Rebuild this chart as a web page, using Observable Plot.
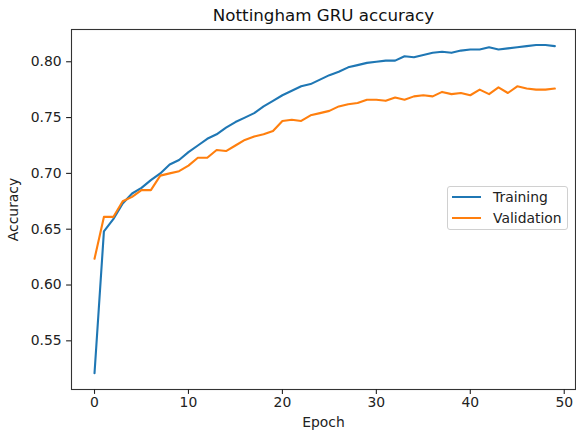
<!DOCTYPE html>
<html>
<head>
<meta charset="utf-8">
<script src="https://cdn.jsdelivr.net/npm/d3@7"></script>
<script src="https://cdn.jsdelivr.net/npm/@observablehq/plot@0.6"></script>
<style>
  body { margin: 0; background: #fff; }
  #wrap { position: relative; width: 576px; height: 431px; font-family: "DejaVu Sans", sans-serif; }
  #legend { position: absolute; left: 447px; top: 186px; width: 121px; height: 44px;
            border: 1px solid #d0d0d0; border-radius: 3px; background: rgba(255,255,255,0.8);
            box-sizing: border-box; }
  .row { position: absolute; left: 4px; height: 16px; display: flex; align-items: center; }
  .sw { width: 29px; height: 2px; margin-right: 12px; }
  .lab { font-size: 13.9px; color: #222; line-height: 16px; }
</style>
</head>
<body>
<div id="wrap"></div>
<script>
const title = "Nottingham GRU accuracy";
const xLabel = "Epoch";
const yLabel = "Accuracy";
const seriesNames = ["Training", "Validation"];
const seriesColors = ["#1f77b4", "#ff7f0e"];
const xTicks = [0, 10, 20, 30, 40, 50];
const yTicks = [0.55, 0.60, 0.65, 0.70, 0.75, 0.80];

const epochs = [0,1,2,3,4,5,6,7,8,9,10,11,12,13,14,15,16,17,18,19,20,21,22,23,24,
                25,26,27,28,29,30,31,32,33,34,35,36,37,38,39,40,41,42,43,44,45,46,47,48,49];

const training = [0.521,0.648,0.659,0.673,0.682,0.687,0.694,0.700,0.708,0.712,
                  0.719,0.725,0.731,0.735,0.741,0.746,0.750,0.754,0.760,0.765,
                  0.770,0.774,0.778,0.780,0.784,0.788,0.791,0.795,0.797,0.799,
                  0.800,0.801,0.801,0.805,0.804,0.806,0.808,0.809,0.808,0.810,
                  0.811,0.811,0.813,0.811,0.812,0.813,0.814,0.815,0.815,0.814];

const validation = [0.6235,0.661,0.661,0.675,0.679,0.685,0.685,0.698,0.700,0.702,
                    0.707,0.714,0.714,0.721,0.720,0.725,0.730,0.733,0.735,0.738,
                    0.747,0.748,0.747,0.752,0.754,0.756,0.760,0.762,0.763,0.766,
                    0.766,0.765,0.768,0.766,0.769,0.770,0.769,0.773,0.771,0.772,
                    0.770,0.775,0.771,0.777,0.772,0.778,0.776,0.775,0.775,0.776];

const rows = [];
epochs.forEach((e, i) => {
  rows.push({epoch: e, value: training[i], series: seriesNames[0]});
});
epochs.forEach((e, i) => {
  rows.push({epoch: e, value: validation[i], series: seriesNames[1]});
});

const font = "DejaVu Sans";
const chart = Plot.plot({
  width: 576,
  height: 431,
  marginLeft: 71,
  marginRight: 1,
  marginTop: 29,
  marginBottom: 42,
  style: {fontFamily: font, fontSize: "13.9px", color: "#222", background: "#fff"},
  x: {domain: [-2.45, 51.2]},
  y: {domain: [0.5064, 0.8289]},
  color: {domain: seriesNames, range: seriesColors},
  marks: [
    Plot.frame({stroke: "#333", strokeWidth: 1.1}),
    Plot.axisX({ticks: xTicks, tickSize: 4.9, tickPadding: 3, tickFormat: d3.format("d"),
                fontSize: 13.9, label: xLabel, labelAnchor: "center", labelArrow: "none",
                labelOffset: 37, strokeWidth: 1.1, stroke: "#222"}),
    Plot.axisY({ticks: yTicks, tickSize: 4.9, tickPadding: 4.9, tickFormat: d3.format(".2f"),
                fontSize: 13.9, label: yLabel, labelAnchor: "center", labelArrow: "none",
                labelOffset: 63, strokeWidth: 1.1, stroke: "#222"}),
    Plot.line(rows, {x: "epoch", y: "value", z: "series", stroke: "series", strokeWidth: 2.1}),
    Plot.text([title], {text: d => d, frameAnchor: "top", dy: -14.3, lineAnchor: "middle",
                        fontSize: 16.7, fill: "#111"})
  ]
});

const wrap = document.getElementById("wrap");
wrap.appendChild(chart);

const legend = document.createElement("div");
legend.id = "legend";
seriesNames.forEach((name, i) => {
  const row = document.createElement("div");
  row.className = "row";
  row.style.top = (2 + i * 21) + "px";
  const sw = document.createElement("div");
  sw.className = "sw";
  sw.style.background = seriesColors[i];
  const lab = document.createElement("span");
  lab.className = "lab";
  lab.textContent = name;
  row.appendChild(sw);
  row.appendChild(lab);
  legend.appendChild(row);
});
wrap.appendChild(legend);
</script>
</body>
</html>
